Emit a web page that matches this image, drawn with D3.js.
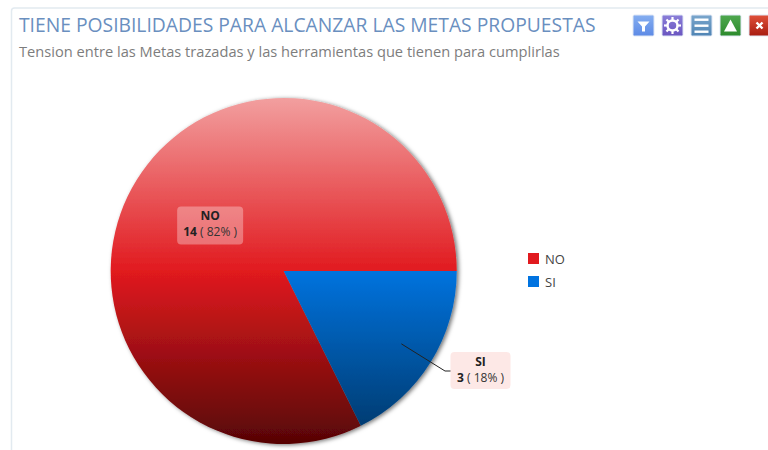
<!DOCTYPE html>
<html><head><meta charset="utf-8">
<script src="https://d3js.org/d3.v7.min.js"></script>
<style>html,body{margin:0;padding:0;background:#fff;overflow:hidden}svg{display:block}text{font-family:"Open Sans",sans-serif}</style>
</head><body><svg id="c" width="768" height="450"></svg>
<script>
const categories = ["NO","SI"];
const values = [14,3];
const percents = ["82%","18%"];
const colorStops = {
  NO:[["0%","#f29f9f"],["50%","#e11a1f"],["100%","#560505"]],
  SI:[["50%","#0076e4"],["100%","#003c72"]]
};
const legendColors = ["#e11a1f","#0073e0"];
const titleText = "TIENE POSIBILIDADES PARA ALCANZAR LAS METAS PROPUESTAS";
const subtitleText = "Tension entre las Metas trazadas y las herramientas que tienen para cumplirlas";

const svg = d3.select("#c");
const defs = svg.append("defs");
const cx=283.7, cy=271, R=173;

svg.append("path").attr("d","M11.5 450V11a3 3 0 0 1 3-3H768").attr("fill","none").attr("stroke","#e2eaf0").attr("stroke-width",1.5);
svg.append("text").attr("x",19).attr("y",32).attr("font-size",19.3).attr("fill","#6a8fbf").text(titleText);
svg.append("text").attr("x",19).attr("y",57).attr("font-size",14.65).attr("fill","#7d7d7d").text(subtitleText);

const shadow = defs.append("filter").attr("id","sh").attr("x","-10%").attr("y","-10%").attr("width","120%").attr("height","120%");
shadow.append("feDropShadow").attr("dx",2).attr("dy",1).attr("stdDeviation",2).attr("flood-color","#000").attr("flood-opacity",.55);

categories.forEach(k=>{
  const g=defs.append("linearGradient").attr("id","g"+k).attr("gradientUnits","userSpaceOnUse")
    .attr("x1",0).attr("x2",0).attr("y1",-R).attr("y2",k==="NO"?R:R-17);
  colorStops[k].forEach(s=>g.append("stop").attr("offset",s[0]).attr("stop-color",s[1]));
});

const rows = categories.map((c,i)=>({c,v:values[i],p:percents[i],col:legendColors[i]}));
const pie = d3.pie().value(d=>d.v).sort((a,b)=>a.v-b.v).startAngle(Math.PI/2).endAngle(Math.PI*2.5);
const arcs = pie(rows);
const arc = d3.arc().innerRadius(0).outerRadius(R);
const pg = svg.append("g").attr("transform",`translate(${cx},${cy})`).attr("filter","url(#sh)");
pg.selectAll("path").data(arcs).join("path").attr("d",arc).attr("fill",d=>`url(#g${d.data.c})`);

function label(d,lx,ly,w,h,fill,op){
  const g=svg.append("g");
  g.append("rect").attr("x",lx-w/2).attr("y",ly-h/2).attr("width",w).attr("height",h).attr("rx",4)
    .attr("fill",fill).attr("fill-opacity",op);
  g.append("text").attr("x",lx).attr("y",ly-5).attr("text-anchor","middle").attr("font-size",12).attr("font-weight",700).attr("fill","#222").text(d.data.c);
  const t=g.append("text").attr("x",lx).attr("y",ly+11).attr("text-anchor","middle").attr("font-size",12).attr("fill","#333");
  t.append("tspan").attr("font-weight",700).attr("fill","#222").text(d.data.v);
  t.append("tspan").text(` ( ${d.data.p} )`);
}
const no=arcs.find(d=>d.data.c==="NO"), si=arcs.find(d=>d.data.c==="SI");
const inner=(d,f)=>d3.arc().innerRadius(R*f).outerRadius(R*f).centroid(d);
const a=inner(si,.8);
svg.append("path").attr("d",d3.line()([[cx+a[0],cy+a[1]],[445,371],[451,371]])).attr("fill","none").attr("stroke","#222").attr("stroke-width",1);
const b=inner(no,.5);
label(no,cx+b[0],cy+b[1],66,38,"#fff",.32);
label(si,480.5,370.5,60,37,"#fde8e6",1);

const lg=svg.append("g");
rows.forEach((r,i)=>{
  const y=253+i*23;
  lg.append("rect").attr("x",528).attr("y",y).attr("width",11).attr("height",11).attr("fill",r.col);
  lg.append("text").attr("x",545).attr("y",y+11).attr("font-size",13).attr("fill","#444").text(r.c);
});

// toolbar icons
const iconColors=[["#85aef0","#5d8ae6"],["#8a7ed8","#6a55c0"],["#7aa6cc","#4f84b4"],["#4fa84f","#2c8a2c"],["#e0503a","#a81c10"]];
const iconX=[633,662,691,720,749];
iconColors.forEach((c,i)=>{
  const id="ic"+i;
  const g=defs.append("linearGradient").attr("id",id).attr("x1",0).attr("x2",0).attr("y1",0).attr("y2",1);
  g.append("stop").attr("offset","0%").attr("stop-color",c[0]);
  g.append("stop").attr("offset","100%").attr("stop-color",c[1]);
  const x=iconX[i], y=15;
  svg.append("rect").attr("x",x).attr("y",y).attr("width",21).attr("height",21).attr("rx",1.5).attr("fill",`url(#${id})`).attr("stroke","#dfe7f5");
  const m=x+10.5, n=y+10.5;
  if(i===0) svg.append("path").attr("d",`M${m-6} ${n-4}H${m+6}L${m+1.5} ${n+1}V${n+6}H${m-1.5}V${n+1}Z`).attr("fill","#fff");
  if(i===1){
    svg.append("circle").attr("cx",m).attr("cy",n).attr("r",5).attr("fill","none").attr("stroke","#fff").attr("stroke-width",2.5);
    d3.range(8).forEach(k=>{const t=k*Math.PI/4;svg.append("line").attr("x1",m+5*Math.cos(t)).attr("y1",n+5*Math.sin(t)).attr("x2",m+8.5*Math.cos(t)).attr("y2",n+8.5*Math.sin(t)).attr("stroke","#fff").attr("stroke-width",2.2);});
  }
  if(i===2) [-6,0,6].forEach(o=>svg.append("rect").attr("x",m-7).attr("y",n+o-1).attr("width",14).attr("height",2.4).attr("fill","#fff"));
  if(i===3) svg.append("path").attr("d",`M${m} ${n-6}L${m+6.5} ${n+6}H${m-6.5}Z`).attr("fill","#fff");
  if(i===4) svg.append("path").attr("d",`M${m-3} ${n-3}L${m+3} ${n+3}M${m+3} ${n-3}L${m-3} ${n+3}`).attr("stroke","#fff").attr("stroke-width",2.4);
});
</script></body></html>
